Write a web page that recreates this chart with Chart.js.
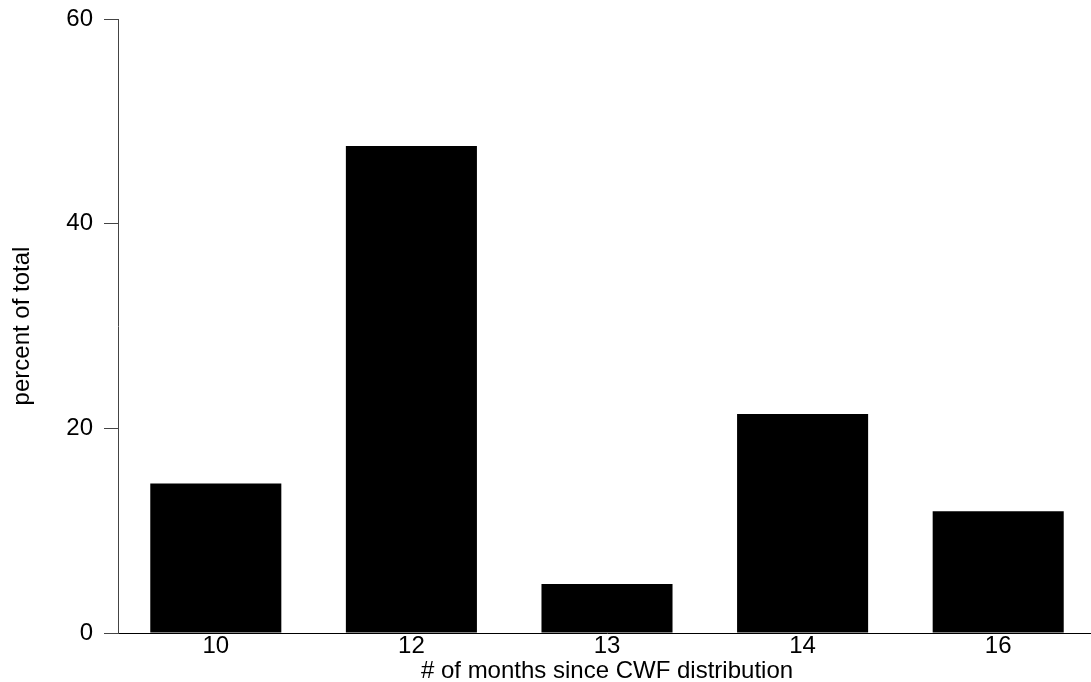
<!DOCTYPE html>
<html>
<head>
<meta charset="utf-8">
<script src="https://cdn.jsdelivr.net/npm/chart.js@4/dist/chart.umd.min.js"></script>
<style>
  html, body { margin: 0; padding: 0; background: #fff; overflow: hidden; }
  canvas { display: block; }
</style>
</head>
<body>
<canvas id="chart" width="1096" height="682"></canvas>
<script>
// months since CWF distribution vs share of respondents
var months = ['10', '12', '13', '14', '16'];
var percentOfTotal = [14.6, 47.6, 4.8, 21.4, 11.9];
var yTicks = [0, 20, 40, 60];

var ctx = document.getElementById('chart').getContext('2d');
Chart.defaults.font.family = '"Liberation Sans", Arial, Helvetica, sans-serif';
Chart.defaults.color = '#000';

new Chart(ctx, {
    type: 'bar',
    data: {
        labels: months,
        datasets: [{
            data: percentOfTotal,
            backgroundColor: '#000',
            borderWidth: 0,
            categoryPercentage: 1,
            barPercentage: 0.67
        }]
    },
    options: {
        responsive: false,
        animation: false,
        layout: { padding: { top: 19, left: 0, right: 0, bottom: 0 } },
        plugins: {
            legend: { display: false },
            tooltip: { enabled: false }
        },
        scales: {
            x: {
                grid: { display: false },
                border: { display: true, color: '#000', width: 1 },
                ticks: {
                    font: { size: 24, lineHeight: 1 },
                    padding: -7,
                    maxRotation: 0
                },
                title: {
                    display: true,
                    text: '# of months since CWF distribution',
                    font: { size: 24, lineHeight: 0.85 },
                    padding: { top: 0, bottom: 0 }
                },
                afterFit: function (scale) {
                    scale.height = 49;
                    scale.paddingLeft = 0;
                    scale.paddingRight = 0;
                }
            },
            y: {
                min: 0,
                max: 60,
                afterBuildTicks: function (scale) {
                    scale.ticks = yTicks.map(function (v) { return { value: v }; });
                },
                grid: {
                    display: true,
                    drawOnChartArea: false,
                    drawTicks: true,
                    tickLength: 14,
                    color: '#444'
                },
                border: { display: true, color: '#444', width: 1 },
                ticks: {
                    font: { size: 24 },
                    padding: 11
                },
                title: {
                    display: true,
                    text: 'percent of total',
                    font: { size: 24 },
                    padding: { top: 8, bottom: 0 }
                },
                afterFit: function (scale) {
                    scale.width = 118;
                    scale.paddingTop = 0;
                    scale.paddingBottom = 0;
                }
            }
        }
    }
});
</script>
</body>
</html>
